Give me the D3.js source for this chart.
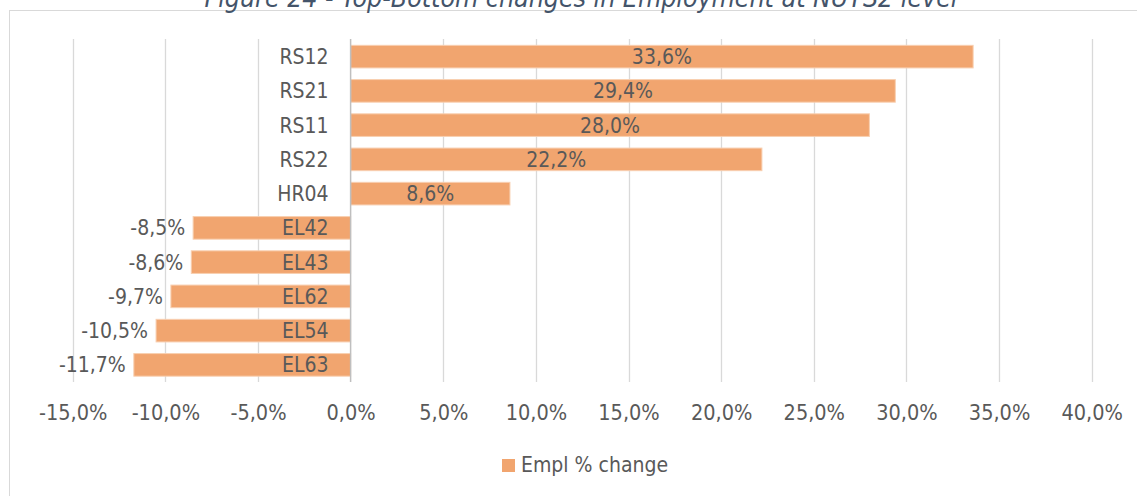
<!DOCTYPE html>
<html>
<head>
<meta charset="utf-8">
<script src="https://cdn.jsdelivr.net/npm/d3@7"></script>
<style>
  html, body { margin: 0; padding: 0; background: #ffffff; }
  svg { display: block; }
  text { font-family: "DejaVu Sans Condensed", "DejaVu Sans", sans-serif; }
</style>
</head>
<body>
<svg id="chart" width="1137" height="496"></svg>
<script>
const titleText = "Figure 24 - Top-Bottom changes in Employment at NUTS2 level";
const categories = ["RS12", "RS21", "RS11", "RS22", "HR04", "EL42", "EL43", "EL62", "EL54", "EL63"];
const values = [33.6, 29.4, 28.0, 22.2, 8.6, -8.5, -8.6, -9.7, -10.5, -11.7];
const tickValues = [-15, -10, -5, 0, 5, 10, 15, 20, 25, 30, 35, 40];
const seriesName = "Empl % change";

const fmt = v => d3.format(".1f")(v).replace(".", ",").replace("\u2212", "-") + "%";

const svg = d3.select("#chart");
const W = 1137, H = 496;
const textColor = "#595959";
const barColor = "#F1A56F";

// Chart frame
svg.append("rect")
  .attr("x", 9.5).attr("y", 10.5)
  .attr("width", W + 20).attr("height", H + 20)
  .attr("fill", "none").attr("stroke", "#d9d9d9").attr("stroke-width", 1);

// Title (partly cut off at top, as in the reference)
svg.append("text")
  .attr("x", 581).attr("y", 7)
  .attr("text-anchor", "middle")
  .attr("font-style", "italic")
  .attr("font-size", 26.5)
  .attr("fill", "#44546A")
  .text(titleText);

const x = d3.scaleLinear().domain([-15, 40]).range([72.7, 1091.7]);
const y = d3.scaleBand().domain(categories).range([39.5, 382]).paddingInner(0.34).paddingOuter(0.17);

// Gridlines
svg.append("g")
  .selectAll("line")
  .data(tickValues.filter(t => t !== 0))
  .join("line")
  .attr("x1", d => Math.round(x(d)) + 0.5).attr("x2", d => Math.round(x(d)) + 0.5)
  .attr("y1", 39).attr("y2", 382)
  .attr("stroke", "#d9d9d9").attr("stroke-width", 1.3);

// X axis tick labels via d3 axis
const xAxis = d3.axisBottom(x).tickValues(tickValues).tickFormat(fmt).tickSize(0).tickPadding(0);
const gx = svg.append("g").attr("transform", "translate(0,420)").call(xAxis);
gx.select(".domain").remove();
gx.selectAll("text")
  .attr("fill", textColor)
  .attr("font-size", 21.5)
  .attr("font-family", "DejaVu Sans Condensed, DejaVu Sans, sans-serif")
  .attr("y", 0)
  .attr("dy", "0");

// Bars
svg.append("g")
  .selectAll("rect")
  .data(categories.map((c, i) => ({ c, v: values[i] })))
  .join("rect")
  .attr("x", d => x(Math.min(0, d.v)))
  .attr("y", d => y(d.c))
  .attr("width", d => Math.abs(x(d.v) - x(0)))
  .attr("height", y.bandwidth())
  .attr("fill", barColor)
  .attr("stroke", "#F8CFB0")
  .attr("stroke-width", 1);

// Zero axis line
svg.append("line")
  .attr("x1", x(0)).attr("x2", x(0))
  .attr("y1", 39).attr("y2", 382)
  .attr("stroke", "#bfbfbf").attr("stroke-width", 1.5);

// Category labels
svg.append("g")
  .selectAll("text")
  .data(categories)
  .join("text")
  .attr("x", x(0) - 22)
  .attr("y", d => y(d) + y.bandwidth() / 2)
  .attr("dy", "0.36em")
  .attr("text-anchor", "end")
  .attr("font-size", 21)
  .attr("fill", textColor)
  .text(d => d);

// Value labels
svg.append("g")
  .selectAll("text")
  .data(categories.map((c, i) => ({ c, v: values[i] })))
  .join("text")
  .attr("x", d => d.v >= 0 ? (x(0) + x(d.v)) / 2 : x(d.v) - 8)
  .attr("y", d => y(d.c) + y.bandwidth() / 2)
  .attr("dy", "0.36em")
  .attr("text-anchor", d => d.v >= 0 ? "middle" : "end")
  .attr("font-size", 21)
  .attr("fill", textColor)
  .text(d => fmt(d.v));

// Legend
const lg = svg.append("g");
lg.append("rect")
  .attr("x", 502).attr("y", 459).attr("width", 13).attr("height", 13)
  .attr("fill", barColor);
lg.append("text")
  .attr("x", 521).attr("y", 472)
  .attr("font-size", 21)
  .attr("fill", textColor)
  .text(seriesName);
</script>
</body>
</html>
